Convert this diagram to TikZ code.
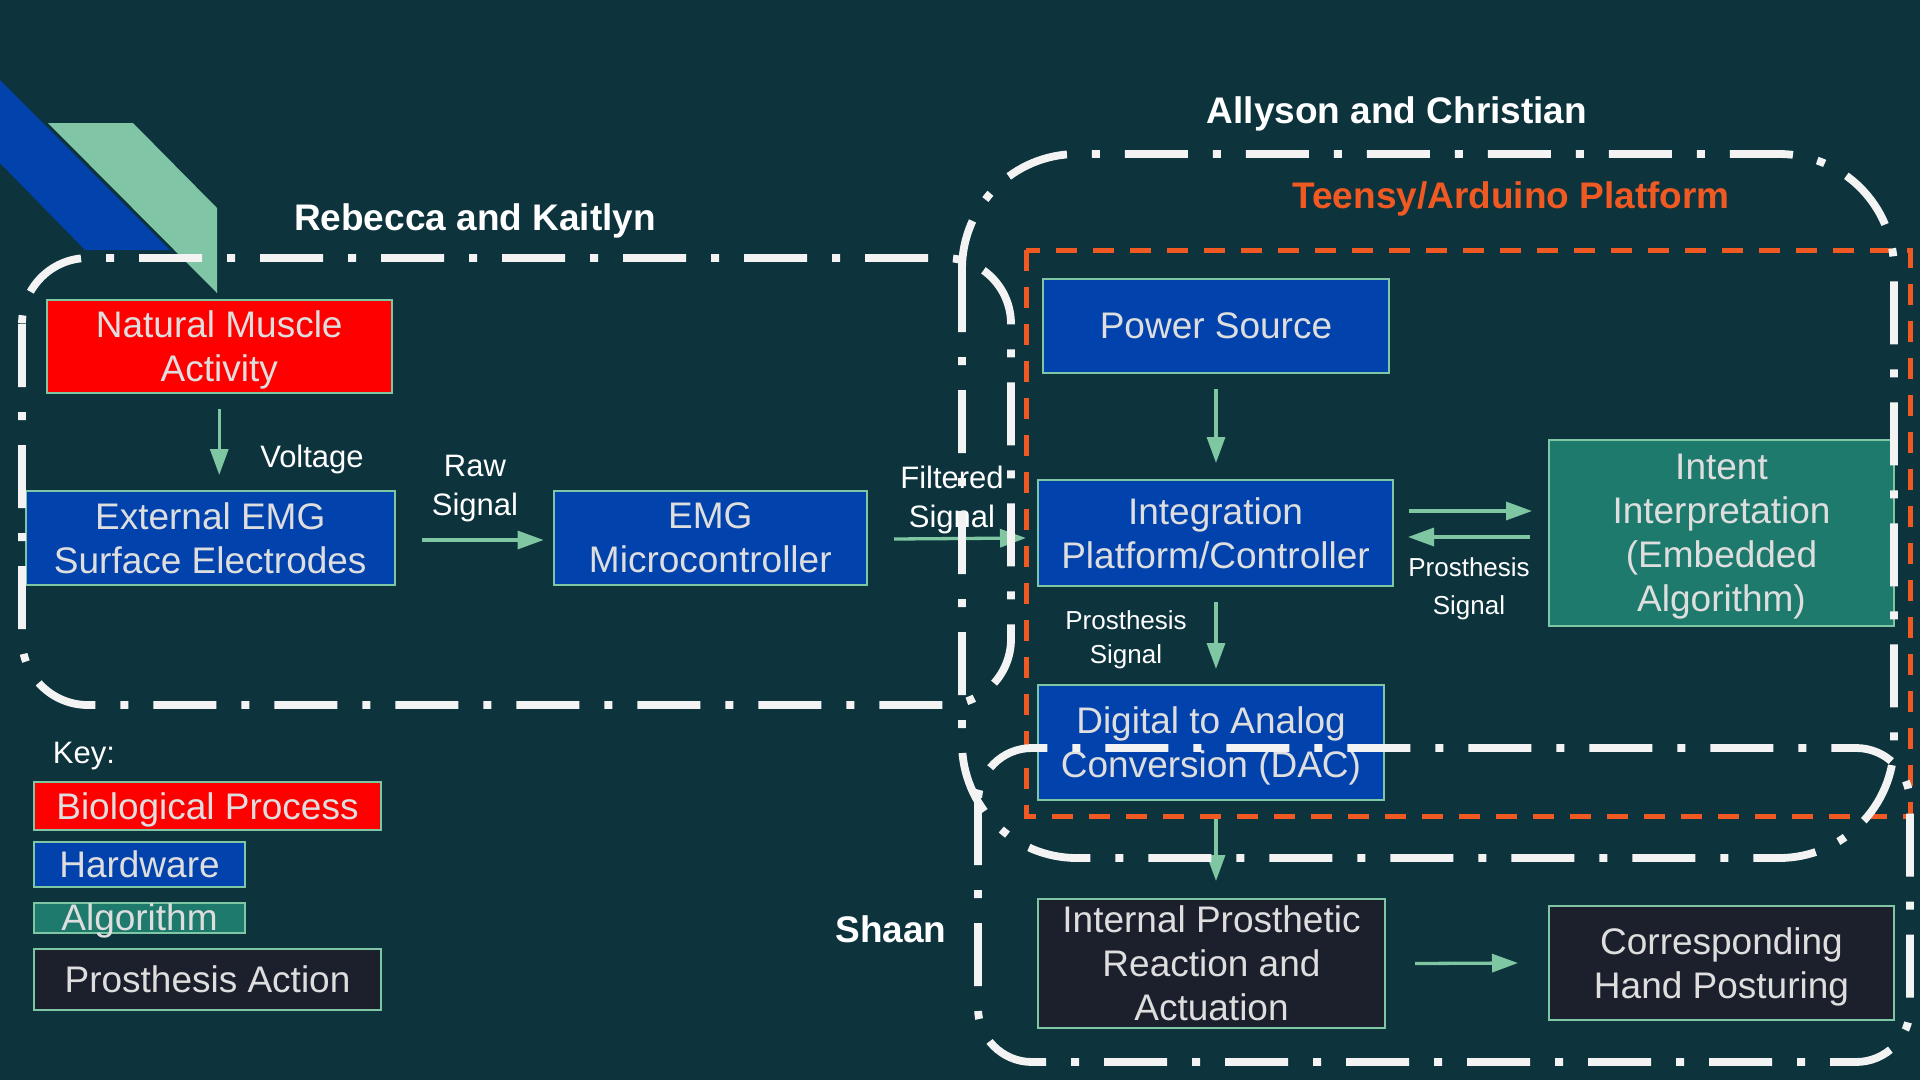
\documentclass[tikz,border=0pt]{standalone}
\usepackage{fontspec}
\setmainfont{Liberation Sans}
\usetikzlibrary{arrows.meta}
\definecolor{bgc}{RGB}{13,51,61}
\definecolor{hwblue}{RGB}{1,66,172}
\definecolor{biored}{RGB}{255,0,0}
\definecolor{algteal}{RGB}{29,122,109}
\definecolor{actdark}{RGB}{28,32,44}
\definecolor{edgegreen}{RGB}{127,198,164}
\definecolor{arrowgreen}{RGB}{127,198,162}
\definecolor{stripegreen}{RGB}{128,198,166}
\definecolor{boxtext}{RGB}{222,222,222}
\definecolor{framewhite}{RGB}{243,243,243}
\definecolor{platorange}{RGB}{240,90,34}
\tikzset{
  box/.style={draw=edgegreen, line width=2pt, inner sep=0pt, align=center,
    text=boxtext, text depth=0pt, font=\fontsize{37}{44}\selectfont},
  arr/.style={draw=arrowgreen, line width=3.3pt, -{Triangle[length=26pt,width=18pt]}},
  lbl/.style={text=white, align=center, inner sep=0pt, font=\fontsize{31}{38.5}\selectfont},
  slbl/.style={text=white, align=center, inner sep=0pt, font=\fontsize{26}{37.5}\selectfont},
  ttl/.style={text=white, inner sep=0pt, font=\fontsize{37}{44}\selectfont\bfseries},
  frame/.style={draw=framewhite, line width=7.8pt, dash pattern=on 63pt off 25pt on 8pt off 25pt},
  orangedash/.style={draw=platorange, line width=5pt, dash pattern=on 21pt off 16pt}
}
\begin{document}
\begin{tikzpicture}[x=1pt,y=-1pt]
\useasboundingbox (0,0) rectangle (1920,1080);
\fill[bgc] (0,0) rectangle (1920,1080);
% decorative stripes
\fill[hwblue] (0,80) -- (170,250) -- (85,250) -- (0,163) -- cycle;
\fill[stripegreen] (48,123) -- (133,123) -- (217,208) -- (217,293) -- cycle;

% boxes
\node[box, fill=biored, minimum width=345.5pt, minimum height=93pt] (nat) at (219.25,346.5) {Natural Muscle\\Activity};
\node[box, fill=hwblue, minimum width=369.5pt, minimum height=94pt] (ext) at (210.25,538) {External EMG\\Surface Electrodes};
\node[box, fill=hwblue, minimum width=313.4pt, minimum height=94pt] (mic) at (710.3,538) {EMG\\Microcontroller};
\node[box, fill=hwblue, minimum width=346pt, minimum height=94pt] (pow) at (1216,326) {Power Source};
\node[box, fill=hwblue, minimum width=355pt, minimum height=106pt] (int) at (1215.5,533) {Integration\\Platform/Controller};
\node[box, fill=algteal, minimum width=345pt, minimum height=186pt] (alg) at (1721.5,533) {Intent\\Interpretation\\(Embedded\\Algorithm)};
\node[box, fill=hwblue, minimum width=346pt, minimum height=115pt] (dac) at (1211,742.5) {Digital to Analog\\Conversion (DAC)};
\node[box, fill=actdark, minimum width=347pt, minimum height=129pt] (ipr) at (1211.5,963.5) {Internal Prosthetic\\Reaction and\\Actuation};
\node[box, fill=actdark, minimum width=345pt, minimum height=114pt] (hand) at (1721.5,963) {Corresponding\\Hand Posturing};

% key
\node[lbl, anchor=base] (key) at (84,763) {Key:};
\node[box, fill=biored, minimum width=347pt, minimum height=48pt] (kbio) at (207.5,806) {Biological Process};
\node[box, fill=hwblue, minimum width=211pt, minimum height=45pt] (khw) at (139.5,864.5) {Hardware};
\node[box, fill=algteal, minimum width=211pt, minimum height=30pt, text height=27pt, text depth=3pt] (kalg) at (139.5,918) {Algorithm};
\node[box, fill=actdark, minimum width=347pt, minimum height=61pt] (kact) at (207.5,979.5) {Prosthesis Action};

% arrows
\draw[arr] ([yshift=-15pt]nat.south) -- ([yshift=15pt]nat.south |- ext.north);
\draw[arr] ([xshift=26pt,yshift=-2pt]ext.east) -- ([xshift=-9pt,yshift=-2pt]mic.west);
\draw[arr] ([xshift=26pt,yshift=-1pt]mic.east) -- ([xshift=-11pt]mic.east -| int.west);
\draw[arr] ([yshift=-15pt]pow.south) -- ([yshift=16pt]pow.south |- int.north);
\draw[arr] ([xshift=15pt,yshift=22pt]int.east) -- ([xshift=-16pt,yshift=22pt]alg.west);
\draw[arr] ([xshift=-18pt,yshift=-4pt]alg.west) -- ([xshift=14pt,yshift=-4pt]int.east);
\draw[arr] ([xshift=0.5pt,yshift=-15pt]int.south) -- ([xshift=5pt,yshift=15pt]dac.north);
\draw[arr] ([xshift=5pt,yshift=-17pt]dac.south) -- ([xshift=4.5pt,yshift=17pt]ipr.north);
\draw[arr] ([xshift=29pt]ipr.east) -- ([xshift=-30pt]hand.west);

% connector labels (anchored at the baseline of their last line)
\node[lbl, anchor=base] (lvolt) at (312,467) {Voltage};
\node[lbl, anchor=base] (lraw) at (475,515) {Raw\\Signal};
\node[lbl, anchor=base] (lfilt) at (952,527) {Filtered\\Signal};
\node[slbl, anchor=base] (lpsr) at (1469,614) {Prosthesis\\Signal};
\node[slbl, anchor=base, font=\fontsize{26}{34}\selectfont] (lpsd) at (1126,663) {Prosthesis\\Signal};

% platform and group frames
\draw[orangedash] (1026,250) rectangle (1910,816);
\draw[frame, rounded corners=66pt] (22,258) rectangle (1011,705);
\draw[frame, rounded corners=115pt] (962,154) rectangle (1894,858);
\draw[frame, rounded corners=54pt] (978,748) rectangle (1910,1062);

% titles
\node[ttl, anchor=base] (trk) at (475,230) {Rebecca and Kaitlyn};
\node[ttl, anchor=base] (tac) at (1397,123) {Allyson and Christian};
\node[ttl, anchor=base, text=platorange] (ttp) at (1511,208) {Teensy/Arduino Platform};
\node[ttl, anchor=base] (tsh) at (891,942) {Shaan};
\end{tikzpicture}
\end{document}
